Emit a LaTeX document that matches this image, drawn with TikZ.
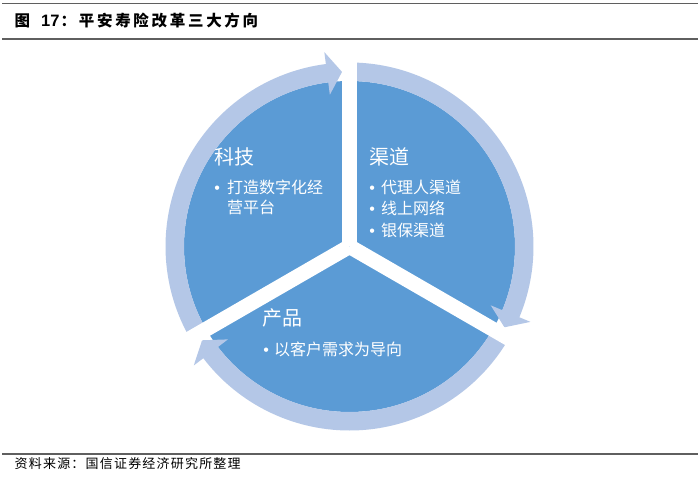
\documentclass[tikz,border=0pt]{standalone}
\usepackage{fontspec}
\newfontfamily\cjk{Noto Sans CJK SC}
\newfontfamily\arialf{Liberation Sans}
\definecolor{pieblue}{HTML}{5B9BD5}
\definecolor{ringblue}{HTML}{B4C7E7}
\definecolor{rulegray}{HTML}{5F5F5F}
\begin{document}
\begin{tikzpicture}[x=1pt,y=1pt,
  lbl/.style={inner sep=0pt, anchor=base west, text=white, font=\cjk\fontsize{20pt}{24pt}\selectfont},
  itm/.style={inner sep=0pt, anchor=base west, text=white, font=\cjk\fontsize{16pt}{19pt}\selectfont},
  bul/.style={inner sep=0pt, anchor=base west, text=white, font=\arialf\fontsize{16pt}{19pt}\selectfont},
  rulel/.style={draw=rulegray, line width=1.3pt},
  gapline/.style={draw=white, line width=15pt}]
\useasboundingbox[fill=white] (0,0) rectangle (700,479);

% rules
\coordinate (r1a) at (2,475.5); \coordinate (r1b) at (698,475.5);
\coordinate (r2a) at (2,440);   \coordinate (r2b) at (698,440);
\coordinate (r3a) at (2,25);    \coordinate (r3b) at (698,25);
\draw[rulel] (r1a) -- (r1b);
\draw[rulel] (r2a) -- (r2b);
\draw[rulel] (r3a) -- (r3b);

% title
\node[inner sep=0pt, anchor=base west, font=\cjk\bfseries\fontsize{15.5pt}{18pt}\selectfont] (tfig) at (14.5,452) {图};
\node[inner sep=0pt, anchor=base west, font=\arialf\bfseries\fontsize{16.5pt}{19pt}\selectfont] (tnum) at (41,452) {17};
\node[inner sep=0pt, anchor=base west, font=\cjk\bfseries\fontsize{15.5pt}{18pt}\selectfont] (ttxt) at (60.5,452)
  {：\kern2.7pt 平\kern2.7pt 安\kern2.7pt 寿\kern2.7pt 险\kern2.7pt 改\kern2.7pt 革\kern2.7pt 三\kern2.7pt 大\kern2.7pt 方\kern2.7pt 向};

% footer
\node[inner sep=0pt, anchor=base west, font=\cjk\fontsize{13pt}{15pt}\selectfont] (src) at (14.5,10.8)
  {资\kern1.2pt 料\kern1.2pt 来\kern1.2pt 源\kern1.2pt ：\kern1.2pt 国\kern1.2pt 信\kern1.2pt 证\kern1.2pt 券\kern1.2pt 经\kern1.2pt 济\kern1.2pt 研\kern1.2pt 究\kern1.2pt 所\kern1.2pt 整\kern1.2pt 理};

% pie
\node[circle, fill=pieblue, minimum size=331pt, inner sep=0pt] (pie) at (349.5,232.5) {};

\begin{scope}[shift={(pie.center)}]
  \foreach \g/\h in {210/90, 90/-30, -30/-150} {
    \pgfmathsetmacro\tip{\h+2.46}
    \pgfmathsetmacro\base{\h+2.46+4.92}
    \fill[ringblue] (\g:184pt) arc[start angle=\g, end angle=\base, radius=184pt]
      -- (\base:196pt) -- (\tip:174.75pt) -- (\base:153pt) -- (\base:165.5pt)
      arc[start angle=\base, end angle=\g, radius=165.5pt] -- cycle;
  }
  \coordinate (gA) at (90:205pt);
  \coordinate (gB) at (-30:205pt);
  \coordinate (gC) at (210:205pt);
\end{scope}
\draw[gapline] (pie.center) -- (gA);
\draw[gapline] (pie.center) -- (gB);
\draw[gapline] (pie.center) -- (gC);

% left sector
\node[lbl] (kj) at (214,314.9) {科技};
\node[bul] (kjb) at (214.2,285.9) {•};
\node[itm] (kj1) at (227,285.9) {打造数字化经};
\node[itm] (kj2) at (227,265.9) {营平台};

% right sector
\node[lbl] (qd) at (369,314.9) {渠道};
\node[bul] (qdb1) at (369.2,285.5) {•};
\node[itm] (qd1) at (381,285.5) {代理人渠道};
\node[bul] (qdb2) at (369.2,264) {•};
\node[itm] (qd2) at (381,264) {线上网络};
\node[bul] (qdb3) at (369.2,242.5) {•};
\node[itm] (qd3) at (381,242.5) {银保渠道};

% bottom sector
\node[lbl] (cp) at (262,153.4) {产品};
\node[bul] (cpb) at (263.2,123.9) {•};
\node[itm] (cp1) at (274,123.9) {以客户需求为导向};
\end{tikzpicture}
\end{document}
